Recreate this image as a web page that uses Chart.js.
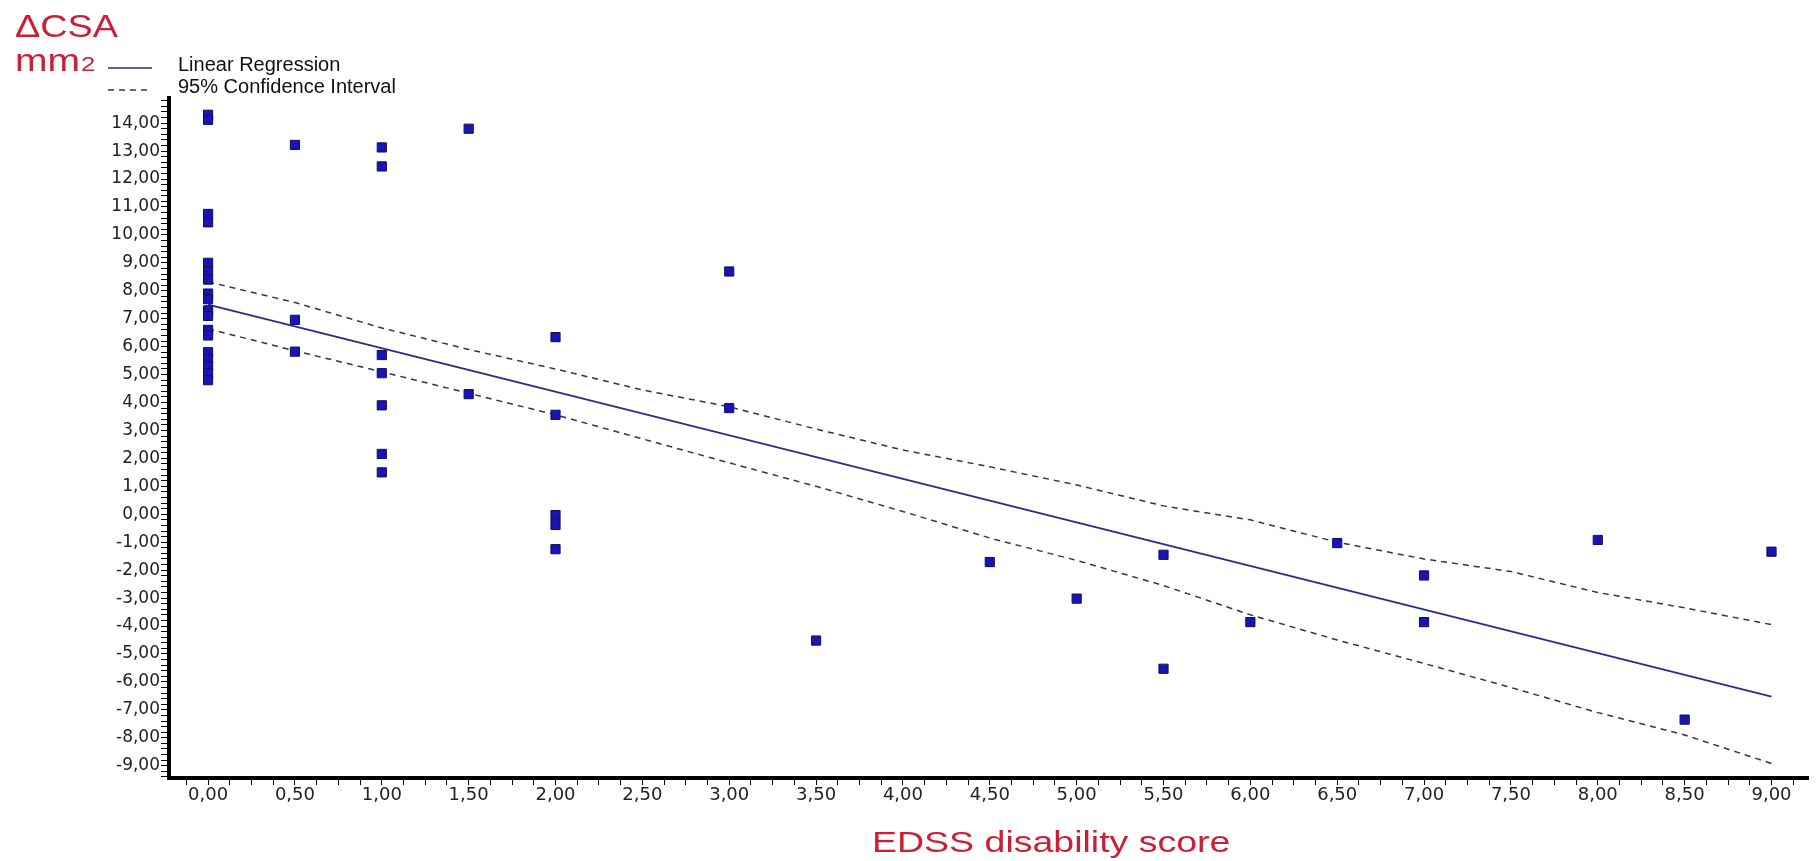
<!DOCTYPE html>
<html>
<head>
<meta charset="utf-8">
<script src="https://cdn.jsdelivr.net/npm/chart.js@4.4.1/dist/chart.umd.min.js"></script>
<style>
  html, body { margin: 0; padding: 0; background: #fff; }
  canvas { display: block; }
</style>
</head>
<body>
<canvas id="myChart" width="1816" height="861"></canvas>
<script>
// EDSS score of each patient and the change in cross-sectional area
const edss = [
  0, 0, 0, 0, 0, 0, 0, 0, 0, 0, 0, 0, 0, 0, 0, 0, 0, 0,
  0.5, 0.5, 0.5,
  1, 1, 1, 1, 1, 1, 1,
  1.5, 1.5,
  2, 2, 2, 2, 2,
  3, 3,
  3.5, 4.5, 5, 5.5, 5.5, 6, 6.5, 7, 7, 8, 8.5, 9,
]
const deltaCsa = [
  14.3, 14.12, 10.75, 10.45, 9.0, 8.7, 8.4, 7.9, 7.7, 7.3, 7.1, 6.6, 6.4, 5.8, 5.55, 5.3, 5.05, 4.8,
  13.22, 6.96, 5.82,
  13.13, 12.45, 5.7, 5.05, 3.9, 2.16, 1.5,
  13.8, 4.3,
  6.34, 3.56, -0.03, -0.38, -1.25,
  8.69, 3.8,
  -4.52, -1.71, -3.02, -1.45, -5.53, -3.86, -1.03, -2.19, -3.86, -0.92, -7.35, -1.34,
]

// regression line end points
const regX = [0, 9]
const regY = [7.5, -6.53]

const ciX = [0, 0.5, 1, 1.5, 2, 2.5, 3, 3.5, 4, 4.5, 5, 5.5, 6, 6.5, 7, 7.5, 8, 8.5, 9]
const ciUpper = [8.32, 7.58, 6.67, 5.9, 5.2, 4.45, 3.85, 3.05, 2.3, 1.7, 1.05, 0.3, -0.2, -1.0, -1.6, -2.05, -2.8, -3.35, -3.95]
const ciLower = [6.64, 5.85, 5.1, 4.33, 3.56, 2.7, 1.84, 1.0, 0.1, -0.85, -1.65, -2.55, -3.6, -4.5, -5.34, -6.2, -7.1, -7.9, -8.92]

// labelled ticks
const xMajorTicks = [0, 0.5, 1, 1.5, 2, 2.5, 3, 3.5, 4, 4.5, 5, 5.5, 6, 6.5, 7, 7.5, 8, 8.5, 9]
const yMajorTicks = [-9, -8, -7, -6, -5, -4, -3, -2, -1, 0, 1, 2, 3, 4, 5, 6, 7, 8, 9, 10, 11, 12, 13, 14]

const red = '#cc1f36'
const navy = '#2c2c88'

const toPoints = (xs, ys) => xs.map((x, i) => ({ x: x, y: ys[i] }))

const isMajor = (list, v) => list.some((t) => Math.abs(t - v) < 1e-6)
const fmt = (v) => v.toFixed(2).replace('.', ',')

const stretchedText = (ctx, text, x, y, sx) => {
  ctx.save()
  ctx.translate(x, y)
  ctx.scale(sx, 1)
  ctx.fillText(text, 0, 0)
  ctx.restore()
}

const annotations = {
  id: 'annotations',
  afterDraw(chart) {
    const { ctx } = chart
    ctx.save()
    ctx.textBaseline = 'alphabetic'
    ctx.textAlign = 'left'
    ctx.fillStyle = red

    ctx.font = '31px "Liberation Sans", Arial, sans-serif'
    stretchedText(ctx, '\u0394CSA', 15, 37, 1.22)

    ctx.font = '32px "Liberation Sans", Arial, sans-serif'
    stretchedText(ctx, 'mm', 15, 71, 1.22)
    const mmW = ctx.measureText('mm').width * 1.22
    ctx.font = '21px "Liberation Sans", Arial, sans-serif'
    stretchedText(ctx, '2', 15 + mmW + 1, 71, 1.22)

    // legend
    ctx.strokeStyle = navy
    ctx.lineWidth = 1.5
    ctx.beginPath()
    ctx.moveTo(108, 68)
    ctx.lineTo(152, 68)
    ctx.stroke()
    ctx.strokeStyle = '#333355'
    ctx.setLineDash([6, 5])
    ctx.beginPath()
    ctx.moveTo(108, 90)
    ctx.lineTo(152, 90)
    ctx.stroke()
    ctx.setLineDash([])

    ctx.fillStyle = '#111'
    ctx.font = '20px "Liberation Sans", Arial, sans-serif'
    ctx.fillText('Linear Regression', 178, 71)
    ctx.fillText('95% Confidence Interval', 178, 93)

    ctx.fillStyle = red
    ctx.font = '30px "Liberation Sans", Arial, sans-serif'
    stretchedText(ctx, 'EDSS disability score', 872, 852, 1.25)
    ctx.restore()
  },
}

const data = {
  datasets: [
    {
      label: 'Patients',
      data: toPoints(edss, deltaCsa),
      pointStyle: 'rect',
      pointRadius: 6.5,
      backgroundColor: '#1a14b4',
      borderColor: '#10105a',
      borderWidth: 1,
      order: 0,
    },
    {
      label: 'Linear Regression',
      type: 'line',
      data: toPoints(regX, regY),
      borderColor: navy,
      borderWidth: 1.8,
      pointRadius: 0,
      fill: false,
      order: 1,
    },
    {
      label: '95% Confidence Interval (upper)',
      type: 'line',
      data: toPoints(ciX, ciUpper),
      borderColor: '#333355',
      borderWidth: 1.5,
      borderDash: [6, 5],
      pointRadius: 0,
      fill: false,
      order: 1,
    },
    {
      label: '95% Confidence Interval (lower)',
      type: 'line',
      data: toPoints(ciX, ciLower),
      borderColor: '#333355',
      borderWidth: 1.5,
      borderDash: [6, 5],
      pointRadius: 0,
      fill: false,
      order: 1,
    },
  ],
}

const tickFont = { family: '"DejaVu Sans", sans-serif' }

const config = {
  type: 'scatter',
  data: data,
  options: {
    responsive: false,
    animation: false,
    devicePixelRatio: 1,
    layout: { padding: { left: 0, right: 0, top: 98, bottom: 0 } },
    plugins: {
      legend: { display: false },
      tooltip: { enabled: false },
    },
    scales: {
      x: {
        type: 'linear',
        min: -0.225,
        max: 9.213,
        border: { display: true, color: '#000', width: 4 },
        grid: {
          drawOnChartArea: false,
          drawTicks: true,
          tickLength: 7,
          tickColor: '#000',
          tickWidth: 1,
        },
        ticks: {
          stepSize: 0.125,
          includeBounds: false,
          autoSkip: false,
          maxRotation: 0,
          padding: 0,
          color: '#222',
          font: { ...tickFont, size: 18 },
          callback: (value) => (isMajor(xMajorTicks, value) ? fmt(value) : ''),
        },
        afterFit(scale) {
          scale.height = 83
        },
      },
      y: {
        type: 'linear',
        min: -9.44,
        max: 14.9,
        border: { display: true, color: '#000', width: 4 },
        grid: {
          drawOnChartArea: false,
          drawTicks: true,
          tickLength: 8,
          tickColor: '#000',
          tickWidth: 1,
        },
        ticks: {
          stepSize: 0.2,
          includeBounds: false,
          autoSkip: false,
          padding: 1,
          color: '#222',
          font: { ...tickFont, size: 17 },
          callback: (value) => (isMajor(yMajorTicks, value) ? fmt(value) : ''),
        },
        afterFit(scale) {
          scale.width = 169
        },
      },
    },
  },
  plugins: [annotations],
}

const canvas = document.getElementById('myChart')
const myChart = new Chart(canvas, config)
</script>
</body>
</html>
